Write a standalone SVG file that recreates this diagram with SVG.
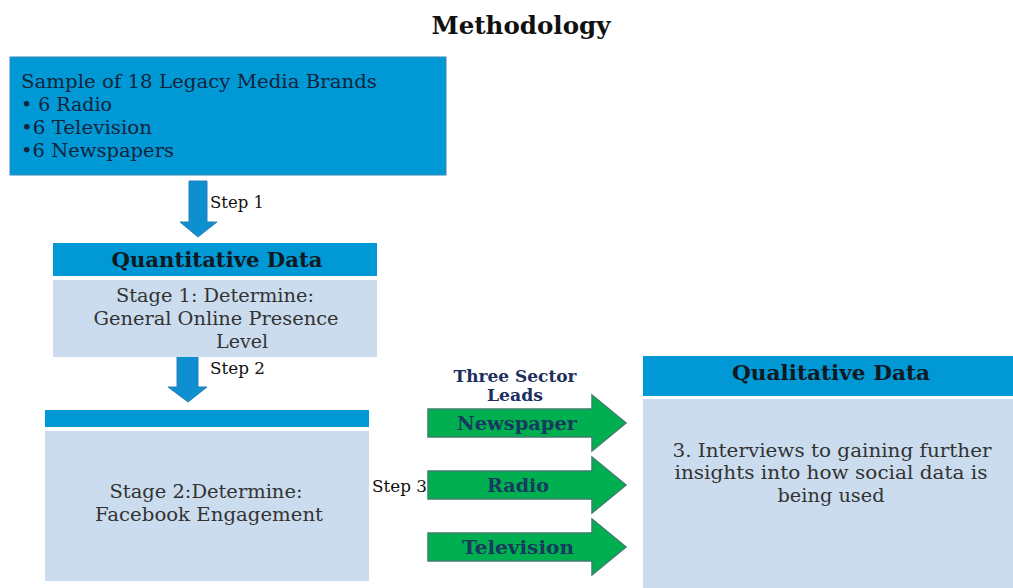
<svg xmlns="http://www.w3.org/2000/svg" width="1013" height="588" viewBox="0 0 1013 588">
<style>
.bg{fill:#ffffff}
.blue{fill:#0099d6;stroke:#3a86b8;stroke-width:1}
.hdr{fill:#0099d6}
.light{fill:#cadcee}
.barrow{fill:#0e8fd0;stroke:#2a7fb8;stroke-width:1}
.garrow{fill:#00b050;stroke:#3c7f6c;stroke-width:1.5}
.title{font-family:"DejaVu Serif","Liberation Serif",serif;font-weight:bold;font-size:24px;fill:#111111}
.t1{font-family:"DejaVu Serif","Liberation Serif",serif;font-size:19px;fill:#14243a}
.hd{font-family:"DejaVu Serif","Liberation Serif",serif;font-weight:bold;font-size:20px;fill:#101820;text-anchor:middle}
.body{font-family:"DejaVu Serif","Liberation Serif",serif;font-size:18px;fill:#333333;text-anchor:middle}
.step{font-family:"DejaVu Serif","Liberation Serif",serif;font-size:16px;fill:#111111}
.lead{font-family:"DejaVu Serif","Liberation Serif",serif;font-weight:bold;font-size:17px;fill:#1c2f5e;text-anchor:middle}
.gl{font-family:"DejaVu Serif","Liberation Serif",serif;font-weight:bold;font-size:19px;fill:#173a5e;text-anchor:middle}
</style>
<rect class="bg" x="0" y="0" width="1013" height="588"/>
<text class="title" x="521" y="34" text-anchor="middle" textLength="179" lengthAdjust="spacingAndGlyphs">Methodology</text>

<g id="sample">
<rect class="blue" x="10" y="57" width="436" height="118"/>
<text class="t1" x="21" y="88" textLength="356" lengthAdjust="spacingAndGlyphs">Sample of 18 Legacy Media Brands</text>
<text class="t1" x="21" y="111" textLength="91" lengthAdjust="spacingAndGlyphs">• 6 Radio</text>
<text class="t1" x="21" y="134" textLength="131" lengthAdjust="spacingAndGlyphs">•6 Television</text>
<text class="t1" x="21" y="157" textLength="153" lengthAdjust="spacingAndGlyphs">•6 Newspapers</text>
</g>

<g id="connectors">
<polygon class="barrow" points="189,181 207,181 207,222 217,222 198,237 180,222 189,222"/>
<text class="step" x="210" y="208" textLength="54" lengthAdjust="spacingAndGlyphs">Step 1</text>
<polygon class="barrow" points="177,353 198,353 198,387 207,387 188,402 168,387 177,387"/>
<text class="step" x="210" y="374" textLength="55" lengthAdjust="spacingAndGlyphs">Step 2</text>
<text class="step" x="372" y="492" textLength="55" lengthAdjust="spacingAndGlyphs">Step 3</text>
</g>

<g id="quantitative">
<rect class="hdr" x="53" y="243" width="324" height="33"/>
<text class="hd" x="217" y="267" textLength="211" lengthAdjust="spacingAndGlyphs">Quantitative Data</text>
</g>

<g id="stage1">
<rect class="light" x="53" y="280" width="324" height="77"/>
<text class="body" x="215" y="302" textLength="198" lengthAdjust="spacingAndGlyphs">Stage 1: Determine:</text>
<text class="body" x="216" y="325" textLength="245" lengthAdjust="spacingAndGlyphs">General Online Presence</text>
<text class="body" x="242" y="348" textLength="52" lengthAdjust="spacingAndGlyphs">Level</text>
</g>

<g id="stage2">
<rect class="hdr" x="45" y="410" width="324" height="17"/>
<rect class="light" x="45" y="431" width="324" height="150"/>
<text class="body" x="206" y="498" textLength="193" lengthAdjust="spacingAndGlyphs">Stage 2:Determine:</text>
<text class="body" x="209" y="521" textLength="228" lengthAdjust="spacingAndGlyphs">Facebook Engagement</text>
</g>

<g id="sector-leads">
<text class="lead" x="515" y="382" textLength="123" lengthAdjust="spacingAndGlyphs">Three Sector</text>
<text class="lead" x="515" y="401" textLength="56" lengthAdjust="spacingAndGlyphs">Leads</text>
</g>

<g id="newspaper">
<polygon class="garrow" points="428,409 592,409 592,395 626,423 592,451 592,437 428,437"/>
<text class="gl" x="517" y="430" textLength="120" lengthAdjust="spacingAndGlyphs">Newspaper</text>
</g>
<g id="radio">
<polygon class="garrow" points="428,471 592,471 592,457 626,485 592,513 592,499 428,499"/>
<text class="gl" x="518" y="492" textLength="62" lengthAdjust="spacingAndGlyphs">Radio</text>
</g>
<g id="television">
<polygon class="garrow" points="428,533 592,533 592,519 626,547 592,575 592,561 428,561"/>
<text class="gl" x="518" y="554" textLength="112" lengthAdjust="spacingAndGlyphs">Television</text>
</g>

<g id="qualitative">
<rect class="hdr" x="643" y="356" width="370" height="40"/>
<text class="hd" x="831" y="380" textLength="198" lengthAdjust="spacingAndGlyphs">Qualitative Data</text>
<rect class="light" x="643" y="399" width="370" height="189"/>
<text class="body" x="832" y="457" textLength="319" lengthAdjust="spacingAndGlyphs">3. Interviews to gaining further</text>
<text class="body" x="831" y="479" textLength="313" lengthAdjust="spacingAndGlyphs">insights into how social data is</text>
<text class="body" x="831" y="502" textLength="107" lengthAdjust="spacingAndGlyphs">being used</text>
</g>
</svg>
